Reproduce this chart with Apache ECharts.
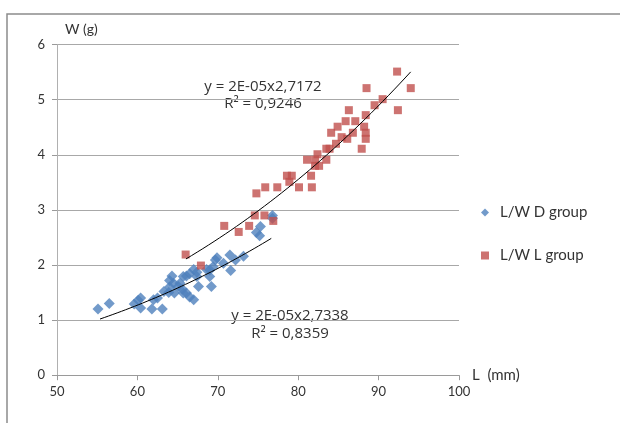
<!DOCTYPE html>
<html>
<head>
<meta charset="utf-8">
<script src="https://cdn.jsdelivr.net/npm/echarts@6/dist/echarts.min.js"></script>
<style>
  html, body { margin: 0; padding: 0; background: #fff; }
  #chart { width: 620px; height: 423px; }
</style>
</head>
<body>
<div id="chart"></div>
<script>
// axis ranges
const xRange = [50, 100];
const yRange = [0, 6];

// L/W D group (blue diamonds): [L mm, W g]
const groupD = [
  [55.1, 1.20], [56.5, 1.30], [59.6, 1.29], [60.1, 1.36], [60.4, 1.40], [60.4, 1.22],
  [61.8, 1.20], [62.5, 1.40], [62.0, 1.37], [63.1, 1.20], [63.3, 1.52], [63.9, 1.50],
  [64.0, 1.72], [64.0, 1.60], [64.3, 1.80], [64.5, 1.67], [64.6, 1.49], [65.1, 1.61],
  [65.3, 1.67], [65.6, 1.56], [65.7, 1.49], [65.7, 1.79], [66.1, 1.80], [66.1, 1.49],
  [66.5, 1.84], [66.5, 1.42], [67.0, 1.92], [67.0, 1.37], [67.4, 1.87], [67.4, 1.79],
  [67.6, 1.61], [68.6, 1.92], [69.0, 1.91], [69.4, 1.97], [69.0, 1.79], [69.2, 1.61],
  [69.7, 2.09], [69.9, 2.13], [70.7, 2.03], [71.5, 2.18], [72.2, 2.09], [71.6, 1.90],
  [73.2, 2.16], [74.8, 2.59], [75.2, 2.53], [75.3, 2.70], [76.8, 2.90], [76.8, 2.85]
];

// L/W L group (red squares)
const groupL = [
  [66.0, 2.19], [67.9, 1.99], [70.8, 2.71], [72.6, 2.60], [73.9, 2.71], [74.6, 2.90],
  [74.8, 3.30], [75.8, 2.90], [75.9, 3.41], [76.9, 2.80], [77.4, 3.41], [78.6, 3.62],
  [78.9, 3.51], [79.2, 3.62], [80.1, 3.41], [81.1, 3.91], [81.6, 3.62], [81.7, 3.41],
  [82.1, 3.91], [82.1, 3.80], [82.6, 3.80], [82.4, 4.01], [83.5, 3.91], [83.5, 4.11],
  [83.9, 4.11], [84.1, 4.40], [84.7, 4.20], [84.9, 4.51], [85.4, 4.32], [85.9, 4.61],
  [86.1, 4.29], [86.3, 4.81], [86.8, 4.40], [87.1, 4.61], [87.9, 4.11], [88.2, 4.51],
  [88.4, 4.40], [88.4, 4.29], [88.4, 4.72], [88.5, 5.21], [89.5, 4.90], [90.5, 5.01],
  [92.3, 5.51], [92.4, 4.81], [94.0, 5.21]
];

// power trendlines y = a * x^b, drawn over the fitted range
const trendD = { a: 1.75e-5, b: 2.7338, from: 55.35, to: 76.65 };
const trendL = { a: 2.396e-5, b: 2.7172, from: 66.04, to: 93.99 };
const labelsD = ['y = 2E-05x2,7338', 'R² = 0,8359'];
const labelsL = ['y = 2E-05x2,7172', 'R² = 0,9246'];

function curve(t) {
  const pts = [];
  const n = 40;
  for (let i = 0; i <= n; i++) {
    const x = t.from + (t.to - t.from) * i / n;
    pts.push([x, t.a * Math.pow(x, t.b)]);
  }
  return pts;
}

const font = 'Lato, "Open Sans", sans-serif';
const txt = '#333';
const eqFont = '15px "Open Sans", sans-serif';

function eqText(text, cx, cy) {
  return {
    type: 'text', x: cx, y: cy,
    style: { text: text, fill: txt, font: eqFont, align: 'center', verticalAlign: 'middle' }
  };
}

const chart = echarts.init(document.getElementById('chart'));
chart.setOption({
  animation: false,
  grid: { left: 57, right: 161, top: 44.6, bottom: 47.8 },
  xAxis: {
    type: 'value', min: xRange[0], max: xRange[1], interval: 10,
    name: 'L  (mm)', nameLocation: 'end', nameGap: 13,
    nameTextStyle: { color: txt, fontFamily: font, fontSize: 15 },
    axisLine: { lineStyle: { color: '#9a9a9a' } },
    axisTick: { show: true, length: 5, lineStyle: { color: '#9a9a9a' } },
    axisLabel: { color: txt, fontFamily: font, fontSize: 13, margin: 10 },
    splitLine: { show: false }
  },
  yAxis: {
    type: 'value', min: yRange[0], max: yRange[1], interval: 1,
    name: 'W (g)', nameLocation: 'end', nameGap: 8,
    nameTextStyle: { color: txt, fontFamily: font, fontSize: 14, align: 'left', padding: [0, 0, 0, 8] },
    axisLine: { show: true, lineStyle: { color: '#b0b0b0' } },
    axisTick: { show: true, length: 5, lineStyle: { color: '#9a9a9a' } },
    axisLabel: { color: txt, fontFamily: font, fontSize: 13, margin: 12 },
    splitLine: { lineStyle: { color: '#a8a8a8' } }
  },
  legend: {
    data: ['L/W D group', 'L/W L group'],
    orient: 'vertical', left: 476, top: 200, itemGap: 28,
    itemWidth: 8, itemHeight: 8,
    textStyle: { color: txt, fontFamily: font, fontSize: 15, padding: [0, 0, 0, 6] }
  },
  series: [
    {
      name: 'L/W D group', type: 'scatter', symbol: 'diamond', symbolSize: 11,
      itemStyle: { color: '#4F81BD' }, data: groupD, z: 2
    },
    {
      name: 'L/W L group', type: 'scatter', symbol: 'rect', symbolSize: 8,
      itemStyle: { color: '#C0504D' }, data: groupL, z: 2
    },
    {
      name: 'trend D', type: 'line', data: curve(trendD), showSymbol: false, silent: true,
      lineStyle: { color: '#000', width: 1 }, z: 3
    },
    {
      name: 'trend L', type: 'line', data: curve(trendL), showSymbol: false, silent: true,
      lineStyle: { color: '#000', width: 1 }, z: 3
    }
  ],
  graphic: [
    { type: 'rect', shape: { x: 7, y: 14, width: 700, height: 500 }, style: { fill: 'none', stroke: '#8c8c8c', lineWidth: 1.5 } },
    eqText(labelsL[0], 263, 87),
    eqText(labelsL[1], 263, 104),
    eqText(labelsD[0], 290, 316),
    eqText(labelsD[1], 290, 334)
  ]
});
</script>
</body>
</html>
